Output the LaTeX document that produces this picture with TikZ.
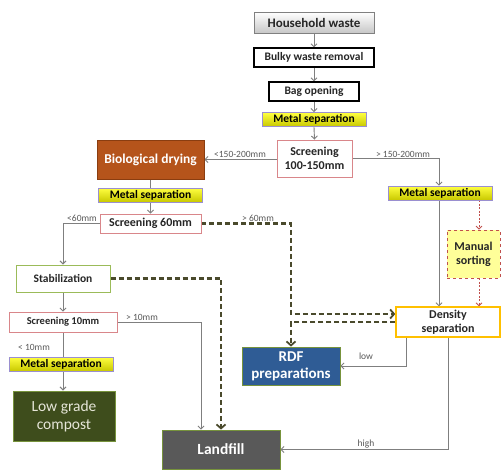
\documentclass[tikz,border=0pt]{standalone}
\usepackage{fontspec}
\setmainfont{Carlito}
\usetikzlibrary{arrows.meta,calc,backgrounds}
\definecolor{txtc}{HTML}{262626}
\definecolor{lblc}{HTML}{595959}
\definecolor{linec}{HTML}{7F7F7F}
\definecolor{olivec}{HTML}{4A4A2C}
\definecolor{lilac}{HTML}{9A8FD0}
\definecolor{ylt}{HTML}{FFFF40}
\definecolor{ydk}{HTML}{C8C800}
\definecolor{scrc}{HTML}{D9868A}
\definecolor{bioc}{HTML}{B5541B}
\definecolor{biob}{HTML}{8A3D10}
\definecolor{stabc}{HTML}{9BBB59}
\definecolor{compc}{HTML}{3E4D1C}
\definecolor{compb}{HTML}{77933C}
\definecolor{comptxt}{HTML}{E6E6D8}
\definecolor{landc}{HTML}{595959}
\definecolor{rdfc}{HTML}{2F5C95}
\definecolor{densc}{HTML}{FFC000}
\definecolor{manc}{HTML}{FFFF99}
\definecolor{redc}{HTML}{C0504D}
\definecolor{hwb}{HTML}{808080}
\newcommand\fsz[2]{\fontsize{#1}{#2}\selectfont}
\begin{document}
\begin{tikzpicture}[x=1pt,y=-1pt,
  box/.style={rectangle, draw, inner sep=0pt, align=center, text=txtc},
  hwbox/.style={box, draw=hwb, line width=1pt, top color=white, bottom color=black!22, font=\fsz{13}{15}\bfseries, minimum width=120pt, minimum height=21pt},
  blk/.style={box, draw=black, line width=1.2pt, fill=white, font=\fsz{11.5}{13}\bfseries},
  msep/.style={box, draw=lilac, line width=0.8pt, top color=ylt, bottom color=ydk, text=black, font=\fsz{11.5}{13}\bfseries, minimum width=104pt, minimum height=14pt},
  scr/.style={box, draw=scrc, line width=0.9pt, fill=white, font=\fsz{12}{14}\bfseries},
  biobox/.style={box, draw=biob, line width=0.8pt, fill=bioc, text=white, font=\fsz{13.5}{15}\bfseries, minimum width=107pt, minimum height=39pt},
  stabbox/.style={box, draw=stabc, line width=1pt, fill=white, font=\fsz{11.5}{13}\bfseries, minimum width=94pt, minimum height=27pt},
  compbox/.style={box, draw=compb, line width=1pt, fill=compc, text=comptxt, font=\fsz{15.5}{18}, minimum width=102pt, minimum height=50pt},
  landbox/.style={box, draw=compb, line width=0.8pt, fill=landc, text=white, font=\fsz{15.5}{18}\bfseries, minimum width=118pt, minimum height=39pt},
  rdfbox/.style={box, draw=compb, line width=0.8pt, fill=rdfc, text=white, font=\fsz{15}{17}\bfseries, minimum width=98pt, minimum height=38pt},
  densbox/.style={box, draw=densc, line width=1.3pt, fill=white, font=\fsz{12}{14}\bfseries, minimum width=104pt, minimum height=30pt},
  manbox/.style={box, draw=redc, line width=0.8pt, dashed, fill=manc, font=\fsz{12}{14}\bfseries, minimum width=53pt, minimum height=48pt},
  lbl/.style={font=\fsz{9.5}{11}, text=lblc, inner sep=1pt},
  gl/.style={draw=linec, line width=0.9pt},
  garr/.style={gl, -{Straight Barb[length=3pt,width=6pt]}},
  ddash/.style={draw=olivec, line width=2.2pt, dash pattern=on 5pt off 3pt, -{Straight Barb[length=4pt,width=9pt,line width=1.8pt]}},
  rdash/.style={draw=redc, line width=0.8pt, dash pattern=on 2pt off 1.5pt, -{Straight Barb[length=3pt,width=6pt]}}
]
\useasboundingbox (0,0) rectangle (501,469);
% nodes
\node[hwbox] (hw) at (314,22.5) {Household waste};
\node[blk, minimum width=120pt, minimum height=19pt] (bwr) at (314,57.5) {Bulky waste removal};
\node[blk, minimum width=90pt, minimum height=19pt] (bag) at (314,91.5) {Bag opening};
\node[msep] (ms1) at (314,119.5) {Metal separation};
\node[scr, minimum width=75pt, minimum height=37pt] (scr1) at (314.5,158.5) {Screening\\100-150mm};
\node[biobox] (bio) at (150.5,159.5) {Biological drying};
\node[msep] (ms2) at (150.5,195) {Metal separation};
\node[msep] (ms4) at (440,193) {Metal separation};
\node[scr, minimum width=101pt, minimum height=19pt] (scr60) at (150.5,223.5) {Screening 60mm};
\node[stabbox] (stab) at (63,278.5) {Stabilization};
\node[scr, font=\fsz{10.5}{12}\bfseries, minimum width=108pt, minimum height=20pt] (scr10) at (63,322) {Screening 10mm};
\node[msep] (ms3) at (61,364) {Metal separation};
\node[compbox] (comp) at (64,416) {Low grade\\compost};
\node[landbox] (land) at (221,449.5) {Landfill};
\node[rdfbox] (rdf) at (291,366) {RDF\\preparations};
\node[densbox] (dens) at (448,322) {Density\\separation};
\node[manbox] (man) at (473.5,254) {Manual\\sorting};
% labels
\node[lbl, anchor=south] (l1) at (240,158.5) {<150-200mm};
\node[lbl, anchor=south] (l2) at (403,159) {> 150-200mm};
\node[lbl, anchor=south] (l3) at (82,223) {<60mm};
\node[lbl, anchor=south] (l4) at (258,223) {> 60mm};
\node[lbl, anchor=south] (l5) at (142,322) {> 10mm};
\node[lbl] (l6) at (34,347) {< 10mm};
\node[lbl] (l7) at (366,356) {low};
\node[lbl] (l8) at (366,444) {high};
% helper coordinates
\coordinate (mx) at ($(man.north)+(5.5,0)$);
\coordinate (d1) at ($(dens.west)+(0,-8)$);
\coordinate (lx) at ($(land.north)+(-20,0)$);
\coordinate (dl) at ($(dens.south)+(-42,0)$);
\coordinate (mg) at ($(ms4.south)+(-1,0)$);
% connectors
\begin{scope}[on background layer]
\fill[white] (0,0) rectangle (501,469);
\draw[garr] (hw.south) -- (bwr.north);
\draw[garr] (bwr.south) -- (bag.north);
\draw[garr] (bag.south) -- (ms1.north);
\draw[garr] (ms1.south) -- (scr1.north);
\draw[garr] (scr1.west |- bio.east) -- (bio.east);
\draw[garr] (scr1.east) -| (ms4.north -| mg);
\draw[garr] (mg) -- (mg |- dens.north);
\draw[rdash] (mx |- ms4.south) -- (mx);
\draw[rdash] (mx |- man.south) -- (mx |- dens.north);
\draw[gl] (bio.south) -- (ms2.north);
\draw[garr] (ms2.south) -- (scr60.north);
\draw[garr] (scr60.west) -| (stab.north);
\draw[garr] (stab.south) -- (scr10.north);
\draw[garr] (scr10.south) -- (scr10.south |- comp.north);
\draw[garr] (scr10.east) -| (lx);
\draw[ddash] (stab.east) -| (land.north);
\draw[ddash] (scr60.east) -- (rdf.north |- scr60.east) -- (rdf.north |- d1) -- (d1);
\draw[ddash] (dens.west) -| (rdf.north);
\draw[garr] (dl) |- (rdf.east);
\draw[garr] (dens.south) |- (land.east);
\end{scope}
\end{tikzpicture}
\end{document}
